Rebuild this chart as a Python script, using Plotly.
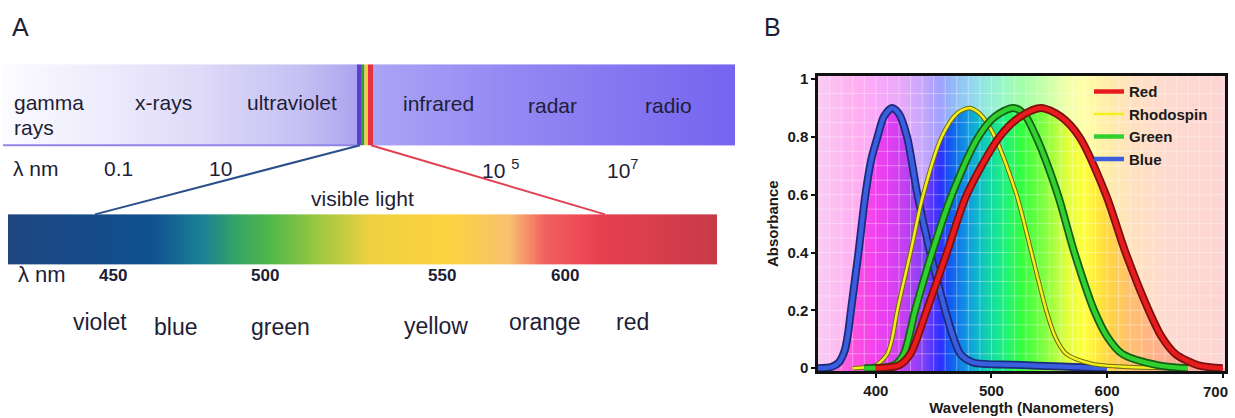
import numpy as np
import plotly.graph_objects as go

# ---------------- Panel B data ----------------
blue_wl = [350, 362, 368, 373, 376, 378.5, 385, 391, 396, 401.5, 407, 414, 420, 427, 436, 447, 460, 466, 473, 484, 520, 560, 600]
blue_ab = [0, 0.005, 0.02, 0.06, 0.12, 0.2, 0.4, 0.6, 0.72, 0.8, 0.87, 0.9, 0.88, 0.8, 0.6, 0.4, 0.2, 0.12, 0.05, 0.02, 0.012, 0.006, 0.0]

rhod_wl = [380, 400, 406, 410, 414, 418.6, 430, 441, 457, 470, 481, 490, 503, 521.7, 534.6, 547.4, 555, 564.6, 587, 620, 660]
rhod_ab = [0, 0.01, 0.03, 0.05, 0.1, 0.2, 0.4, 0.6, 0.8, 0.88, 0.9, 0.88, 0.8, 0.6, 0.4, 0.2, 0.11, 0.05, 0.015, 0.004, 0]

green_wl = [390, 415.8, 424.3, 434, 448.7, 465.8, 488.7, 503, 518.7, 528, 538.7, 557.4, 571.7, 588.8, 600, 613, 644.6, 670]
green_ab = [0, 0.01, 0.05, 0.2, 0.4, 0.6, 0.8, 0.87, 0.9, 0.88, 0.8, 0.6, 0.4, 0.2, 0.11, 0.05, 0.01, 0]

red_wl = [400, 420, 430, 444, 461.5, 478.7, 507, 525, 543, 560, 576, 599, 616, 636, 647, 659, 679, 700]
red_ab = [0, 0.01, 0.05, 0.2, 0.4, 0.6, 0.8, 0.87, 0.9, 0.87, 0.8, 0.6, 0.4, 0.2, 0.11, 0.05, 0.01, 0]

series_names = ["Red", "Rhodospin", "Green", "Blue"]
x_ticks = [400, 500, 600, 700]
x_tick_text = ["400", "500", "600", "700"]
y_ticks = [0, 0.2, 0.4, 0.6, 0.8, 1]
y_tick_text = ["0", "0.2", "0.4", "0.6", "0.8", "1"]

# ---------------- Panel A data ----------------
band_labels = ["x-rays", "ultraviolet", "infrared", "radar", "radio"]
band_label_x = [163, 292, 438, 552, 668]
band_label_y = [100, 100, 101, 103, 103]
scale_labels = ["0.1", "10", "10 <sup>5</sup>", "10<sup>7</sup>"]
scale_label_x = [118, 220, 500, 623]
visible_nm = ["450", "500", "550", "600"]
visible_nm_x = [113, 265, 442, 565]
color_names = ["violet", "blue", "green", "yellow", "orange", "red"]
color_names_x = [100, 175, 280, 436, 545, 632]
color_names_y = [325, 330, 330, 329, 325, 325]

W, H = 1235, 418
FONT = "Liberation Sans, Arial, sans-serif"
TXT = "#1e1e36"

fig = go.Figure()

# ======== Panel B ========
bx0, bx1 = 350, 702
bg_stops = [(350, "#f090e0"), (380, "#ff50e0"), (400, "#f040f0"), (420, "#d040f0"), (440, "#8040f8"),
            (455, "#3030ff"), (465, "#1060f0"), (480, "#10a0e0"), (495, "#10d0b0"), (510, "#20f080"),
            (525, "#30ff40"), (545, "#80ff40"), (565, "#e0ff40"), (580, "#ffff40"), (600, "#ffd840"),
            (620, "#ffc070"), (645, "#ffb090"), (702, "#f8a0a0")]
cs_bg = [[(w - bx0) / (bx1 - bx0), c] for w, c in bg_stops]
nb = 200
xe = np.linspace(bx0, bx1, nb + 1)
fig.add_trace(go.Heatmap(x=xe, y=[-0.01, 1.01], z=[np.linspace(bx0, bx1, nb)], colorscale=cs_bg,
                         zmin=bx0, zmax=bx1, showscale=False, hoverinfo="skip", zsmooth="best",
                         xaxis="x", yaxis="y"))

# pale overlay above the envelope of the curves
grid = np.arange(bx0, bx1 + 0.5, 1.0)
env = np.max([np.interp(grid, w, a, left=0, right=0) for w, a in
              [(blue_wl, blue_ab), (rhod_wl, rhod_ab), (green_wl, green_ab), (red_wl, red_ab)]], axis=0)
fig.add_trace(go.Scatter(x=grid, y=np.full_like(grid, 1.01), mode="lines", line=dict(width=0),
                         showlegend=False, hoverinfo="skip"))
fig.add_trace(go.Scatter(x=grid, y=env, mode="lines", line=dict(width=0), fill="tonexty",
                         fillcolor="rgba(255,255,255,0.55)", showlegend=False, hoverinfo="skip"))

# faint grid
gx, gy = [], []
for v in np.arange(360, 702, 10):
    gx += [v, v, None]; gy += [-0.01, 1.01, None]
for v in np.arange(0.05, 1.0, 0.05):
    gx += [bx0, bx1, None]; gy += [v, v, None]
fig.add_trace(go.Scatter(x=gx, y=gy, mode="lines", line=dict(color="rgba(255,255,255,0.35)", width=1),
                         showlegend=False, hoverinfo="skip"))

curves = [
    ("Blue", blue_wl, blue_ab, "#3a5ee0", "#1c2a78", 4.5, 8, 4),
    ("Rhodospin", rhod_wl, rhod_ab, "#f4f020", "#6e6a10", 2.5, 4.5, 2),
    ("Green", green_wl, green_ab, "#30d030", "#146014", 4.5, 8, 3),
    ("Red", red_wl, red_ab, "#e81c1c", "#7a1010", 4.5, 8, 1),
]
for name, wl, ab, col, dark, wi, wo, rank in curves:
    fig.add_trace(go.Scatter(x=wl, y=ab, mode="lines", line=dict(color=dark, width=wo, shape="spline", smoothing=0.8),
                             showlegend=False, hoverinfo="skip"))
    fig.add_trace(go.Scatter(x=wl, y=ab, mode="lines", name=name, legendrank=rank,
                             line=dict(color=col, width=wi, shape="spline", smoothing=0.8)))

# ======== Panel A ========
def hm_band(x0, x1, y0, y1, stops, n=200):
    cs = [[(p - x0) / (x1 - x0), c] for p, c in stops]
    fig.add_trace(go.Heatmap(x=np.linspace(x0, x1, n + 1), y=[y0, y1], z=[np.linspace(x0, x1, n)],
                             zmin=x0, zmax=x1, colorscale=cs, showscale=False, hoverinfo="skip",
                             zsmooth="best", xaxis="x2", yaxis="y2"))

hm_band(3, 358, 60, 143, [(3, "#fcfbff"), (100, "#eeecfc"), (200, "#dedaf8"), (300, "#c6c0f3"), (358, "#aca4ef")])
hm_band(373, 735, 60, 143, [(373, "#aaa4f6"), (500, "#958af3"), (735, "#7564ee")])
hm_band(8, 717, 214, 265, [(8, "#1e4680"), (60, "#1a4a88"), (150, "#0f5090"), (200, "#1a8095"),
                           (240, "#3aa860"), (270, "#50b84a"), (320, "#a0c840"), (370, "#f0d040"),
                           (450, "#fcd340"), (510, "#f8c070"), (545, "#f26060"), (600, "#e84050"),
                           (717, "#c83a48")])

shapes = []
def rect(x0, x1, y0, y1, col):
    shapes.append(dict(type="rect", xref="x2", yref="y2", x0=x0, x1=x1, y0=y0, y1=y1,
                       fillcolor=col, line=dict(width=0), layer="above"))
def line(x0, y0, x1, y1, col, w):
    shapes.append(dict(type="line", xref="x2", yref="y2", x0=x0, x1=x1, y0=y0, y1=y1,
                       line=dict(color=col, width=w), layer="above"))

rect(357, 361, 60, 143, "#5a40d0")
rect(361, 364.5, 60, 143, "#3a9a30")
rect(364.5, 368, 60, 143, "#e8d040")
rect(368, 373, 60, 143, "#e83040")
line(3, 143, 358, 143, "#9284e8", 2)
line(360, 143, 95, 214, "#2a4f8a", 2)
line(371, 143, 605, 214, "#e04050", 2)

ann = []
def txt(x, y, s, size=20, anchor="center", bold=False, fam=FONT):
    ann.append(dict(x=x, y=y, xref="x2", yref="y2", text=s, showarrow=False, xanchor=anchor, yanchor="middle",
                    font=dict(family=fam, size=size, color=TXT, weight="bold" if bold else "normal")))

txt(10, 22, "A", 25, "left")
txt(12, 99, "gamma", 21, "left")
txt(12, 125, "rays", 21, "left")
for s, x, y in zip(band_labels, band_label_x, band_label_y):
    txt(x, y - 1, s, 21)
txt(11, 167, "λ nm", 21, "left")
for s, x in zip(scale_labels, scale_label_x):
    txt(x, 167, s, 21)
txt(362, 198, "visible light", 21)
txt(16, 276, "λ nm", 22, "left")
for s, x in zip(visible_nm, visible_nm_x):
    txt(x, 277, s, 17, bold=True, fam="Liberation Sans Narrow, Liberation Sans, Arial")
for s, x, y in zip(color_names, color_names_x, color_names_y):
    txt(x, y, s, 23)

ann.append(dict(x=762 / W, y=1 - 22 / H, xref="paper", yref="paper", text="B", showarrow=False,
                xanchor="left", yanchor="middle", font=dict(family=FONT, size=25, color=TXT)))

bold_font = dict(family=FONT, size=15, color="#1a1a1a", weight="bold")
leg_font = dict(family=FONT, size=15, color="#1a1a1a", weight="bold")

# last x tick label sits at the figure edge: draw it as an annotation kept inside the page
ann.append(dict(x=x_ticks[-1], y=0, xref="x", yref="paper", yshift=H - 396, text=x_tick_text[-1],
                showarrow=False, xanchor="right", xshift=7, yanchor="middle", font=bold_font))
shown_tick_text = x_tick_text[:-1] + [""]

fig.update_layout(
    width=W, height=H, margin=dict(l=0, r=0, t=0, b=0),
    paper_bgcolor="white", plot_bgcolor="white",
    showlegend=True,
    legend=dict(x=1089 / W, y=1 - 71 / H, xanchor="left", yanchor="top", bgcolor="rgba(0,0,0,0)",
                font=leg_font, itemwidth=30, tracegroupgap=0, traceorder="normal"),
    xaxis=dict(domain=[818 / W, 1225 / W], range=[bx0, bx1], tickvals=x_ticks, ticktext=shown_tick_text,
               ticks="outside", ticklen=4,
               tickwidth=2, tickcolor="#111", tickfont=bold_font, showgrid=False, zeroline=False,
               showline=True, mirror=True, linecolor="#111", linewidth=2.5,
               title=dict(text="Wavelength (Nanometers)", font=bold_font, standoff=0), anchor="y"),
    yaxis=dict(domain=[1 - 375 / H, 1 - 72 / H], range=[-0.01, 1.01], tickvals=y_ticks, ticktext=y_tick_text,
               ticks="outside", ticklen=4, tickwidth=2, tickcolor="#111", tickfont=bold_font,
               showgrid=False, zeroline=False, showline=True, mirror=True, linecolor="#111", linewidth=2.5,
               title=dict(text="Absorbance", font=bold_font, standoff=6), anchor="x"),
    xaxis2=dict(domain=[0, 741 / W], range=[0, 741], visible=False, anchor="y2"),
    yaxis2=dict(domain=[0, 1], range=[418, 0], visible=False, anchor="x2"),
    shapes=shapes, annotations=ann,
)

fig.write_html("out.html", config={"displayModeBar": False},
               post_script="document.body.style.margin='0';document.body.style.overflow='hidden';")
